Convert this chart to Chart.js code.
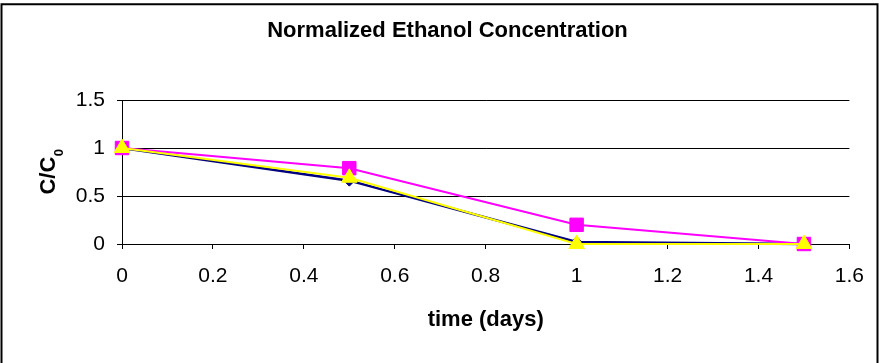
<!DOCTYPE html>
<html>
<head>
<meta charset="utf-8">
<script src="https://cdn.jsdelivr.net/npm/chart.js@4/dist/chart.umd.min.js"></script>
<style>
  html, body { margin: 0; padding: 0; background: #fff; }
  #wrap { width: 879px; height: 363px; }
</style>
</head>
<body>
<div id="wrap"><canvas id="ethanolChart" width="879" height="363"></canvas></div>
<script>
// sampling times (days)
const timeDays = [0, 0.5, 1, 1.5];
// C/C0 per run
const runA = [1, 0.66, 0.02, 0];   // navy, diamonds
const runB = [1, 0.79, 0.2, 0];    // magenta, squares
const runC = [1, 0.69, 0, 0];      // yellow, triangles

const xTicks = [0, 0.2, 0.4, 0.6, 0.8, 1, 1.2, 1.4, 1.6];
const yTicks = [0, 0.5, 1, 1.5];

const FONT = "'Liberation Sans', Arial, 'DejaVu Sans', sans-serif";

const toPts = arr => arr.map((v, i) => ({ x: timeDays[i], y: v }));

// white page, box frame, and the C/C0 axis title with a real subscript
const frame = {
    id: 'frame',
    beforeDraw(chart) {
        const c = chart.ctx;
        c.save();
        c.fillStyle = '#fff';
        c.fillRect(0, 0, chart.width, chart.height);
        c.restore();
    },
    afterDraw(chart) {
        const c = chart.ctx;
        const area = chart.chartArea;
        c.save();
        c.strokeStyle = '#000';
        c.lineWidth = 2;
        c.beginPath();
        c.moveTo(1.5, chart.height + 5);
        c.lineTo(1.5, 4.3);
        c.lineTo(877.5, 4.3);
        c.lineTo(877.5, chart.height + 5);
        c.stroke();

        // y title: "C/C" + subscript "0", rotated
        const main = 'C/C', sub = '0';
        const fMain = 'bold 22px ' + FONT, fSub = 'bold 13px ' + FONT;
        c.font = fMain;
        const w1 = c.measureText(main).width;
        c.font = fSub;
        const w2 = c.measureText(sub).width;
        c.translate(49, (area.top + area.bottom) / 2);
        c.rotate(-Math.PI / 2);
        c.fillStyle = '#000';
        c.textBaseline = 'middle';
        c.textAlign = 'left';
        const x0 = -(w1 + w2) / 2;
        c.font = fMain;
        c.fillText(main, x0, 0);
        c.font = fSub;
        c.fillText(sub, x0 + w1 + 0.5, 10);
        c.restore();
    }
};

const mk = (data, color, style, r, width, order) => ({
    data: toPts(data),
    borderColor: color,
    backgroundColor: color,
    borderWidth: width,
    pointStyle: style,
    pointRadius: r,
    pointBorderWidth: 1,
    pointBorderColor: color,
    pointBackgroundColor: color,
    tension: 0,
    clip: false,
    order: order
});

new Chart(document.getElementById('ethanolChart').getContext('2d'), {
    type: 'line',
    data: {
        datasets: [
            mk(runA, '#000080', 'rectRot', 5.5, 2.5, 2),
            mk(runB, '#ff00ff', 'rect', 9.5, 2, 1),
            mk(runC, '#ffff00', 'triangle', 9, 2, 0)
        ]
    },
    options: {
        responsive: false,
        animation: false,
        events: [],
        layout: { padding: { left: 44, right: 28, top: 0, bottom: 0 } },
        plugins: {
            legend: { display: false },
            tooltip: { enabled: false },
            title: {
                display: true,
                text: 'Normalized Ethanol Concentration',
                color: '#000',
                font: { family: FONT, size: 22, weight: 'bold', lineHeight: 1.2 },
                padding: { top: 18, bottom: 55.6 }
            }
        },
        scales: {
            x: {
                type: 'linear',
                min: 0, max: 1.6,
                afterFit: s => { s.height = 119; },
                afterBuildTicks: s => { s.ticks = xTicks.map(v => ({ value: v })); },
                ticks: {
                    color: '#000',
                    font: { family: FONT, size: 21 },
                    padding: 15,
                    maxRotation: 0,
                    callback: v => String(+v.toFixed(1))
                },
                grid: { drawOnChartArea: false, drawTicks: true, tickLength: 5, color: '#000', lineWidth: 1 },
                border: { display: true, color: '#000', width: 1 },
                title: {
                    display: true,
                    text: 'time (days)',
                    color: '#000',
                    font: { family: FONT, size: 22, weight: 'bold', lineHeight: 1.2 },
                    padding: { top: 0, bottom: 29.8 }
                }
            },
            y: {
                type: 'linear',
                min: 0, max: 1.5,
                afterFit: s => { s.width = 78; },
                afterBuildTicks: s => { s.ticks = yTicks.map(v => ({ value: v })); },
                ticks: {
                    color: '#000',
                    font: { family: FONT, size: 21 },
                    padding: 12,
                    callback: v => String(v)
                },
                grid: { drawOnChartArea: true, drawTicks: true, tickLength: 5, color: '#000', lineWidth: 1 },
                border: { display: true, color: '#000', width: 1 },
                title: { display: false }
            }
        }
    },
    plugins: [frame]
});
</script>
</body>
</html>
